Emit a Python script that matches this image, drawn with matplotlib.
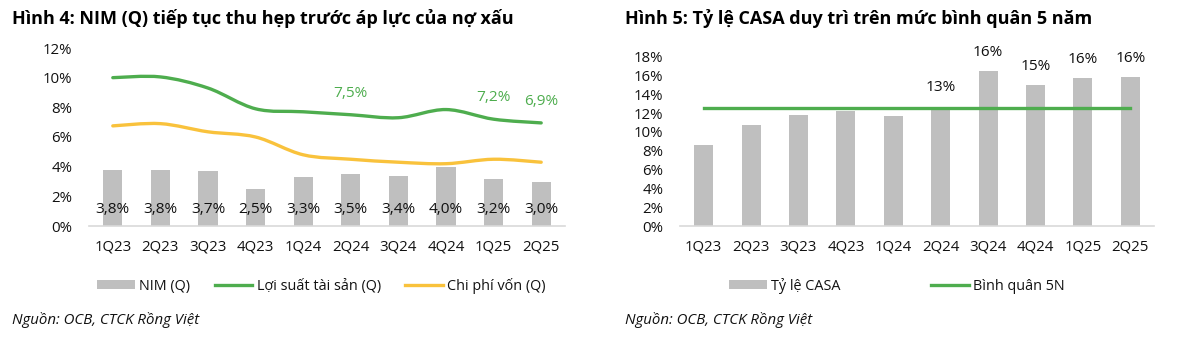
import matplotlib
matplotlib.use("Agg")
import matplotlib.pyplot as plt
from matplotlib.path import Path
from matplotlib.patches import PathPatch, Patch
from matplotlib.lines import Line2D
import numpy as np

# ---------------- data ----------------
quarters = ["1Q23", "2Q23", "3Q23", "4Q23", "1Q24", "2Q24", "3Q24", "4Q24", "1Q25", "2Q25"]
nim = [3.8, 3.8, 3.7, 2.5, 3.3, 3.5, 3.4, 4.0, 3.2, 3.0]
asset_yield = [10.0, 10.05, 9.3, 7.9, 7.7, 7.5, 7.3, 7.85, 7.2, 6.95]
cost_of_funds = [6.75, 6.9, 6.35, 6.0, 4.8, 4.5, 4.3, 4.2, 4.5, 4.3]
yield_label_idx = [5, 8, 9]
yield_labels = ["7,5%", "7,2%", "6,9%"]

casa = [8.6, 10.7, 11.8, 12.2, 11.7, 12.7, 16.5, 15.0, 15.7, 15.8]
casa_avg5 = [12.55] * len(quarters)
casa_label_idx = [5, 6, 7, 8, 9]
casa_labels = ["13%", "16%", "15%", "16%", "16%"]

left_yticks = [0, 2, 4, 6, 8, 10, 12]
right_yticks = [0, 2, 4, 6, 8, 10, 12, 14, 16, 18]

title_left = "Hình 4: NIM (Q) tiếp tục thu hẹp trước áp lực của nợ xấu"
title_right = "Hình 5: Tỷ lệ CASA duy trì trên mức bình quân 5 năm"
source = "Nguồn: OCB, CTCK Rồng Việt"

# ---------------- style ----------------
FONT = ["Open Sans", "DejaVu Sans"]
plt.rcParams["font.family"] = FONT
GRAY = "#BFBFBF"
GREEN = "#4EAD4E"
YELLOW = "#F9C23C"
AXIS = "#D9D9D9"
TXT = "#111111"
FS = 10.8
LFS = 10.4


def smooth_path(x, y):
    """Cubic Bezier (Catmull-Rom style) path through the data points."""
    x = np.asarray(x, float)
    y = np.asarray(y, float)
    n = len(x)
    verts = [(x[0], y[0])]
    codes = [Path.MOVETO]
    for i in range(n - 1):
        p0 = np.array([x[max(i - 1, 0)], y[max(i - 1, 0)]])
        p1 = np.array([x[i], y[i]])
        p2 = np.array([x[i + 1], y[i + 1]])
        p3 = np.array([x[min(i + 2, n - 1)], y[min(i + 2, n - 1)]])
        c1 = p1 + (p2 - p0) / 6.0
        c2 = p2 - (p3 - p1) / 6.0
        verts += [tuple(c1), tuple(c2), tuple(p2)]
        codes += [Path.CURVE4] * 3
    return Path(verts, codes)


def style_axes(ax, ylim, yticks):
    ax.set_ylim(*ylim)
    ax.set_xlim(-0.5, len(quarters) - 0.5)
    ax.set_yticks(yticks)
    ax.set_yticklabels([f"{t}%" for t in yticks])
    ax.set_xticks(range(len(quarters)))
    ax.set_xticklabels(quarters)
    for s in ["top", "right", "left"]:
        ax.spines[s].set_visible(False)
    ax.spines["bottom"].set_color(AXIS)
    ax.spines["bottom"].set_linewidth(1.2)
    ax.tick_params(axis="both", length=0, labelsize=FS, colors=TXT)
    ax.tick_params(axis="y", pad=12)
    ax.tick_params(axis="x", pad=10)


fig = plt.figure(figsize=(12, 3.4), dpi=100)

# ---------------- left chart ----------------
axL = fig.add_axes([89 / 1200, 1 - 226 / 340, 476 / 1200, (226 - 48) / 340])
x = np.arange(len(quarters))
axL.bar(x, nim, width=0.4, color=GRAY, zorder=2)
for xi, v in zip(x, nim):
    axL.text(xi, 1.08, f"{v:.1f}%".replace(".", ","), ha="center", va="center",
             fontsize=FS + 0.3, color=TXT, zorder=4)
axL.add_patch(PathPatch(smooth_path(x, asset_yield), fill=False, edgecolor=GREEN,
                        lw=2.4, capstyle="round", zorder=3))
axL.add_patch(PathPatch(smooth_path(x, cost_of_funds), fill=False, edgecolor=YELLOW,
                        lw=2.4, capstyle="round", zorder=3))
for i, lab in zip(yield_label_idx, yield_labels):
    axL.annotate(lab, (x[i], asset_yield[i]), xytext=(0, 15.5), textcoords="offset points",
                 ha="center", va="center", fontsize=FS + 0.3, color=GREEN)
style_axes(axL, (0, 12), left_yticks)

handlesL = [Patch(facecolor=GRAY, edgecolor="none"),
            Line2D([], [], color=GREEN, lw=2.4),
            Line2D([], [], color=YELLOW, lw=2.4)]
fig.legend(handlesL, ["NIM (Q)", "Lợi suất tài sản (Q)", "Chi phí vốn (Q)"],
           loc="center", bbox_to_anchor=(0.268, 1 - 286 / 340), ncol=3, frameon=False,
           fontsize=LFS, handlelength=2.6, handleheight=0.6, handletextpad=0.3,
           columnspacing=1.7, labelcolor=TXT)

# ---------------- right chart ----------------
axR = fig.add_axes([680 / 1200, 1 - 226 / 340, 474 / 1200, (226 - 56.7) / 340])
axR.bar(x, casa, width=0.4, color=GRAY, zorder=2)
axR.plot(x, casa_avg5, color=GREEN, lw=2.4, zorder=3)
for i, lab in zip(casa_label_idx, casa_labels):
    axR.annotate(lab, (x[i], casa[i]), xytext=(0, 13.5), textcoords="offset points",
                 ha="center", va="center", fontsize=FS + 0.3, color=TXT)
style_axes(axR, (0, 18), right_yticks)

handlesR = [Patch(facecolor=GRAY, edgecolor="none"),
            Line2D([], [], color=GREEN, lw=2.4)]
fig.legend(handlesR, ["Tỷ lệ CASA", "Bình quân 5N"],
           loc="center", bbox_to_anchor=(0.7475, 1 - 286 / 340), ncol=2, frameon=False,
           fontsize=LFS, handlelength=2.6, handleheight=0.6, handletextpad=0.3,
           columnspacing=6.3, labelcolor=TXT)

# ---------------- titles & sources ----------------
fig.text(12 / 1200, 1 - 19 / 340, title_left, ha="left", va="center",
         fontsize=13, fontweight="bold", color="#000000")
fig.text(625 / 1200, 1 - 19 / 340, title_right, ha="left", va="center",
         fontsize=13, fontweight="bold", color="#000000")
fig.text(12 / 1200, 1 - 320 / 340, source, ha="left", va="center",
         fontsize=10.8, style="italic", color=TXT)
fig.text(625 / 1200, 1 - 320 / 340, source, ha="left", va="center",
         fontsize=10.8, style="italic", color=TXT)

fig.savefig("out.png", dpi=100)
